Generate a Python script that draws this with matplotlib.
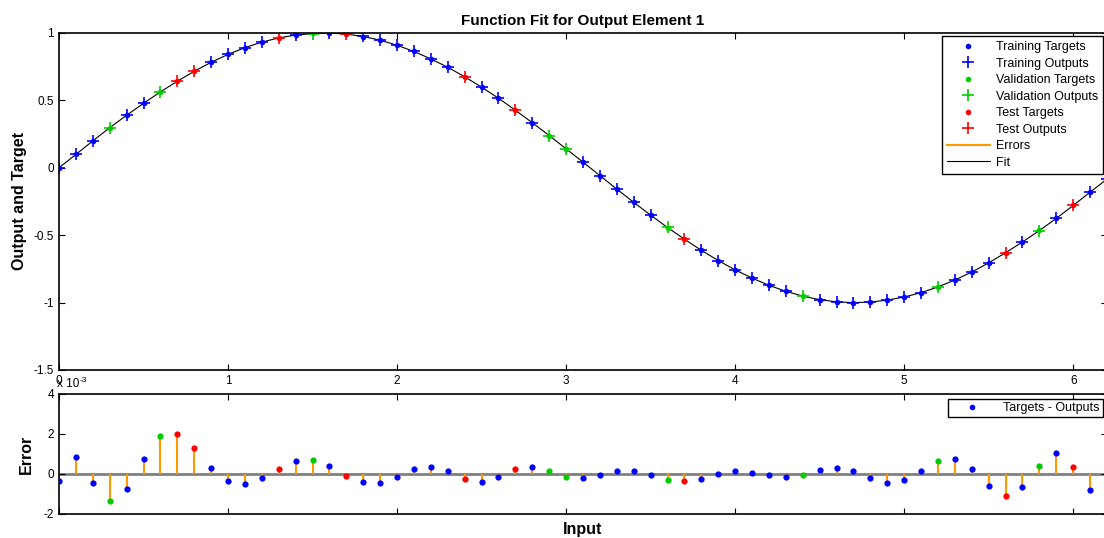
import matplotlib
matplotlib.use('Agg')
import matplotlib.pyplot as plt
from matplotlib.ticker import FuncFormatter
from matplotlib.lines import Line2D

plt.rcParams['font.family'] = ['Liberation Sans', 'DejaVu Sans']
plt.rcParams['axes.unicode_minus'] = False

# inputs (0 .. 6.2)
inputs = [0.0, 0.1, 0.2, 0.3, 0.4, 0.5, 0.6, 0.7, 0.8, 0.9,
          1.0, 1.1, 1.2, 1.3, 1.4, 1.5, 1.6, 1.7, 1.8, 1.9,
          2.0, 2.1, 2.2, 2.3, 2.4, 2.5, 2.6, 2.7, 2.8, 2.9,
          3.0, 3.1, 3.2, 3.3, 3.4, 3.5, 3.6, 3.7, 3.8, 3.9,
          4.0, 4.1, 4.2, 4.3, 4.4, 4.5, 4.6, 4.7, 4.8, 4.9,
          5.0, 5.1, 5.2, 5.3, 5.4, 5.5, 5.6, 5.7, 5.8, 5.9,
          6.0, 6.1, 6.2]

# targets
targets = [0.000, 0.100, 0.199, 0.296, 0.389, 0.479, 0.565, 0.644, 0.717, 0.783,
           0.841, 0.891, 0.932, 0.964, 0.985, 0.997, 1.000, 0.992, 0.974, 0.946,
           0.909, 0.863, 0.808, 0.746, 0.675, 0.598, 0.516, 0.427, 0.335, 0.239,
           0.141, 0.042, -0.058, -0.158, -0.256, -0.351, -0.443, -0.530, -0.612, -0.688,
           -0.757, -0.818, -0.872, -0.916, -0.952, -0.978, -0.994, -1.000, -0.996, -0.982,
           -0.959, -0.926, -0.883, -0.832, -0.773, -0.706, -0.631, -0.551, -0.465, -0.374,
           -0.279, -0.182, -0.083]

# targets - outputs, in units of 1e-3
errors = [-0.37, 0.85, -0.47, -1.35, -0.73, 0.75, 1.88, 2.02, 1.32, 0.32,
          -0.33, -0.52, -0.20, 0.27, 0.67, 0.72, 0.40, -0.08, -0.42, -0.47,
          -0.17, 0.23, 0.37, 0.15, -0.25, -0.38, -0.17, 0.23, 0.37, 0.15,
          -0.15, -0.20, -0.07, 0.15, 0.15, -0.07, -0.28, -0.37, -0.25, 0.02,
          0.15, 0.07, -0.07, -0.17, -0.03, 0.18, 0.28, 0.15, -0.20, -0.43,
          -0.28, 0.15, 0.63, 0.77, 0.23, -0.60, -1.08, -0.65, 0.42, 1.03,
          0.37, -0.82, 0.20]

# T = training, V = validation, S = test
sets = list('TTTVTTVSST'
            'TTTSTVTSTT'
            'TTTTSTTSTV'
            'VTTTTTVSTT'
            'TTTTVTTTTT'
            'TTVTTTSTVT'
            'STT')

colors = {'T': (0, 0, 1), 'V': (0, 0.8, 0), 'S': (1, 0, 0)}
names = {'T': 'Training', 'V': 'Validation', 'S': 'Test'}
orange = (1, 0.6, 0)

outputs = [t - e * 1e-3 for t, e in zip(targets, errors)]

fig = plt.figure(figsize=(11.04, 5.38), dpi=100)
ax1 = fig.add_axes([59 / 1104, 168 / 538, 1048 / 1104, 337 / 538])
ax2 = fig.add_axes([59 / 1104, 24 / 538, 1048 / 1104, 120 / 538])

# ---- top: fit
ax1.vlines(inputs, targets, outputs, color=orange, lw=1.5)
ax1.plot(inputs, outputs, color='black', lw=0.8)
handles = []
for s in ['T', 'V', 'S']:
    xs = [x for x, k in zip(inputs, sets) if k == s]
    ts = [t for t, k in zip(targets, sets) if k == s]
    os_ = [o for o, k in zip(outputs, sets) if k == s]
    h1, = ax1.plot(xs, ts, 'o', color=colors[s], ms=4, mec='none',
                   label=names[s] + ' Targets')
    h2, = ax1.plot(xs, os_, '+', color=colors[s], ms=8, mew=1.2,
                   label=names[s] + ' Outputs')
    handles += [h1, h2]
handles.append(Line2D([], [], color=orange, lw=1.5, label='Errors'))
handles.append(Line2D([], [], color='black', lw=0.8, label='Fit'))

ax1.set_xlim(0, 6.2)
ax1.set_ylim(-1.5, 1)
ax1.set_yticks([-1.5, -1, -0.5, 0, 0.5, 1])
ax1.set_xticks([0, 1, 2, 3, 4, 5, 6])
ax1.yaxis.set_major_formatter(FuncFormatter(lambda v, p: '%g' % v))
ax1.set_title('Function Fit for Output Element 1', fontsize=11, fontweight='bold', pad=6)
ax1.set_ylabel('Output and Target', fontsize=11.5, fontweight='bold', labelpad=5)
leg = ax1.legend(handles=handles, loc='upper right', fontsize=9,
                 handlelength=3.4, handletextpad=0.5, labelspacing=0.36,
                 borderpad=0.4, borderaxespad=0, fancybox=False, framealpha=1,
                 edgecolor='black', bbox_to_anchor=(0.9962, 0.991))
leg.get_frame().set_linewidth(1)

# ---- bottom: errors
ax2.axhline(0, color=(0.5, 0.5, 0.5), lw=2, zorder=1)
ax2.vlines(inputs, 0, errors, color=orange, lw=1.5, zorder=2)
for s in ['T', 'V', 'S']:
    xs = [x for x, k in zip(inputs, sets) if k == s]
    es = [e for e, k in zip(errors, sets) if k == s]
    ax2.plot(xs, es, 'o', color=colors[s], ms=4.5, mec='none', zorder=3)
h = Line2D([], [], ls='none', marker='o', color=(0, 0, 1), ms=4, mec='none',
           label='Targets - Outputs')
leg2 = ax2.legend(handles=[h], loc='upper right', fontsize=9,
                  handlelength=3.4, handletextpad=0.8, borderpad=0.25,
                  borderaxespad=0, fancybox=False, framealpha=1,
                  edgecolor='black', bbox_to_anchor=(0.9962, 0.958))
leg2.get_frame().set_linewidth(1)

ax2.set_xlim(0, 6.2)
ax2.set_ylim(-2, 4)
ax2.set_yticks([-2, 0, 2, 4])
ax2.set_xticks([0, 1, 2, 3, 4, 5, 6])
ax2.set_xticklabels([])
t = ax2.text(-0.002, 1.03, 'x 10', transform=ax2.transAxes, fontsize=8.5,
             ha='left', va='bottom')
ax2.annotate('-3', xy=(1, 0.55), xycoords=t, xytext=(0.5, 0),
             textcoords='offset points', fontsize=6, ha='left', va='bottom')
ax2.set_ylabel('Error', fontsize=11.5, fontweight='bold', labelpad=7)
ax2.set_xlabel('Input', fontsize=11.5, fontweight='bold', labelpad=2)

for ax in (ax1, ax2):
    ax.tick_params(direction='in', top=True, right=True, labelsize=8.5,
                   length=4, width=0.8)
    for sp in ax.spines.values():
        sp.set_linewidth(1.2)

fig.savefig('out.png', dpi=100)
